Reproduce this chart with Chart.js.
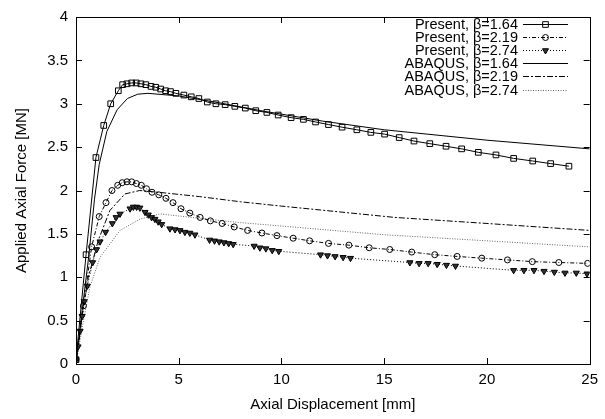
<!DOCTYPE html>
<html>
<head>
<meta charset="utf-8">
<script src="https://cdn.jsdelivr.net/npm/chart.js@4/dist/chart.umd.min.js"></script>
<style>
  body { margin: 0; background: #fff; }
  canvas { display: block; }
</style>
</head>
<body>
<canvas id="chart" width="605" height="419"></canvas>
<script>
// Present, beta = 1.64 (squares)
const disp164 = [0, 0.49, 0.97, 1.35, 1.69, 2.06, 2.27, 2.48, 2.71, 2.93, 3.16, 3.40, 3.65, 3.88, 4.12, 4.36, 4.6, 4.86, 5.25, 5.61, 5.98, 6.39, 6.81, 7.26, 7.73, 8.24, 8.75, 9.29, 9.84, 10.47, 11.07, 11.66, 12.29, 12.95, 13.67, 14.35, 15.02, 15.73, 16.45, 17.22, 18.01, 18.77, 19.58, 20.44, 21.30, 22.23, 23.1, 23.99];
const force164 = [0.05, 1.26, 2.38, 2.75, 3.0, 3.15, 3.22, 3.23, 3.24, 3.24, 3.23, 3.22, 3.20, 3.19, 3.17, 3.15, 3.14, 3.12, 3.10, 3.08, 3.06, 3.02, 3.00, 2.99, 2.97, 2.95, 2.92, 2.90, 2.87, 2.84, 2.82, 2.79, 2.76, 2.73, 2.70, 2.67, 2.65, 2.61, 2.57, 2.54, 2.51, 2.48, 2.44, 2.41, 2.37, 2.34, 2.31, 2.28];

// Present, beta = 2.19 (circles)
const disp219 = [0, 0.36, 0.76, 1.13, 1.46, 1.75, 2.03, 2.25, 2.48, 2.71, 2.94, 3.18, 3.43, 3.70, 4.03, 4.38, 4.72, 5.11, 5.54, 6.04, 6.54, 7.11, 7.70, 8.35, 9.05, 9.78, 10.57, 11.37, 12.29, 13.28, 14.27, 15.27, 16.34, 17.46, 18.55, 19.75, 21.0, 22.21, 23.5, 24.9];
const force219 = [0.05, 0.67, 1.35, 1.70, 1.86, 2.00, 2.06, 2.09, 2.10, 2.10, 2.08, 2.06, 2.02, 1.98, 1.95, 1.91, 1.86, 1.79, 1.74, 1.69, 1.65, 1.62, 1.58, 1.54, 1.51, 1.48, 1.45, 1.42, 1.39, 1.37, 1.34, 1.32, 1.29, 1.26, 1.24, 1.22, 1.20, 1.18, 1.17, 1.16];

// Present, beta = 2.74 (triangles)
const disp274 = [0, 0.1, 0.2, 0.3, 0.4, 0.55, 0.81, 1.0, 1.17, 1.44, 1.77, 1.95, 2.14, 2.63, 2.79, 2.95, 3.11, 3.36, 3.52, 3.68, 3.84, 4.0, 4.17, 4.57, 4.82, 5.06, 5.30, 5.54, 5.79, 6.5, 6.74, 6.97, 7.2, 7.43, 7.65, 8.67, 8.95, 9.24, 9.55, 9.87, 11.9, 12.24, 12.61, 13.0, 13.36, 16.25, 16.70, 17.14, 17.58, 18.03, 18.47, 21.3, 21.8, 22.29, 22.78, 23.28, 23.8, 24.35, 24.87];
const force274 = [0.05, 0.2, 0.38, 0.55, 0.72, 0.9, 1.17, 1.32, 1.41, 1.52, 1.62, 1.69, 1.73, 1.79, 1.81, 1.81, 1.80, 1.75, 1.72, 1.69, 1.67, 1.64, 1.61, 1.56, 1.55, 1.54, 1.52, 1.51, 1.49, 1.43, 1.42, 1.41, 1.40, 1.39, 1.38, 1.36, 1.34, 1.33, 1.31, 1.30, 1.26, 1.25, 1.24, 1.23, 1.22, 1.17, 1.16, 1.16, 1.15, 1.14, 1.13, 1.08, 1.08, 1.08, 1.07, 1.06, 1.05, 1.05, 1.04];

// ABAQUS curves
const abaDisp164 = [0, 0.3, 0.63, 0.9, 1.13, 1.5, 2.0, 2.5, 3.0, 3.5, 5.0, 7.0, 9.0, 12.0, 15.0, 20.0, 25.0];
const abaForce164 = [0, 0.62, 1.26, 1.9, 2.3, 2.68, 2.93, 3.06, 3.11, 3.12, 3.09, 3.01, 2.92, 2.80, 2.70, 2.58, 2.48];
const abaDisp219 = [0, 0.3, 0.6, 1.09, 1.65, 2.38, 3.1, 4.0, 6.0, 8.0, 10.0, 15.5, 20.0, 25.0];
const abaForce219 = [0, 0.55, 1.0, 1.43, 1.77, 1.96, 2.0, 1.98, 1.93, 1.87, 1.82, 1.69, 1.62, 1.54];
const abaDisp274 = [0, 0.3, 0.68, 1.17, 2.14, 3.11, 4.09, 6.0, 8.0, 10.0, 15.0, 20.0, 25.0];
const abaForce274 = [0, 0.42, 0.89, 1.23, 1.54, 1.67, 1.73, 1.68, 1.63, 1.59, 1.49, 1.42, 1.35];

const xTicks = [0, 5, 10, 15, 20, 25];
const yTicks = [0, 0.5, 1, 1.5, 2, 2.5, 3, 3.5, 4];

const FONT = "'Liberation Sans', Arial, Helvetica, sans-serif";

const pts = (xs, ys) => xs.map((v, i) => ({ x: v, y: ys[i] }));

function series(label, xs, ys, style) {
  return Object.assign({
    label,
    data: pts(xs, ys),
    showLine: true,
    borderColor: '#000',
    borderWidth: 1,
    pointRadius: 0,
    pointBorderColor: '#000',
    pointBorderWidth: 1,
    pointBackgroundColor: 'rgba(0,0,0,0)',
    tension: 0
  }, style);
}

const datasets = [
  series('Present, \u03b2=1.64', disp164, force164, { pointStyle: 'rect', pointRadius: 4 }),
  series('Present, \u03b2=2.19', disp219, force219, { pointStyle: 'circle', pointRadius: 3, borderDash: [4, 2, 1, 2] }),
  series('Present, \u03b2=2.74', disp274, force274, { pointStyle: 'triangle', pointRotation: 180, pointRadius: 3.5, pointBackgroundColor: '#333', borderDash: [1, 2] }),
  series('ABAQUS, \u03b2=1.64', abaDisp164, abaForce164, {}),
  series('ABAQUS, \u03b2=2.19', abaDisp219, abaForce219, { borderDash: [6, 2, 2, 2] }),
  series('ABAQUS, \u03b2=2.74', abaDisp274, abaForce274, { borderColor: '#666', borderDash: [1, 1.5] })
];

// gnuplot-like frame: box, inward ticks on all four sides, key in the top right
const frameAndKey = {
  id: 'frameAndKey',
  afterDatasetsDraw(chart) {
    const { ctx, chartArea: a, scales: { x, y } } = chart;
    ctx.save();
    ctx.strokeStyle = '#000';
    ctx.lineWidth = 1;
    ctx.setLineDash([]);
    ctx.strokeRect(Math.round(a.left) + 0.5, Math.round(a.top) + 0.5, Math.round(a.width), Math.round(a.height));
    const tl = 6;
    ctx.beginPath();
    xTicks.forEach(v => {
      const px = Math.round(x.getPixelForValue(v)) + 0.5;
      ctx.moveTo(px, a.bottom); ctx.lineTo(px, a.bottom - tl);
      ctx.moveTo(px, a.top); ctx.lineTo(px, a.top + tl);
    });
    yTicks.forEach(v => {
      const py = Math.round(y.getPixelForValue(v)) + 0.5;
      ctx.moveTo(a.left, py); ctx.lineTo(a.left + tl, py);
      ctx.moveTo(a.right, py); ctx.lineTo(a.right - tl, py);
    });
    ctx.stroke();

    // key
    ctx.font = '14.5px ' + FONT;
    ctx.fillStyle = '#000';
    ctx.textAlign = 'right';
    ctx.textBaseline = 'middle';
    const textRight = 518, x0 = 523, x1 = 568, rowTop = 24, rowStep = 13.1;
    chart.data.datasets.forEach((ds, i) => {
      const cy = Math.round(rowTop + i * rowStep) + 0.5;
      ctx.fillText(ds.label, textRight, cy);
      ctx.save();
      ctx.strokeStyle = ds.borderColor;
      ctx.lineWidth = 1;
      ctx.setLineDash(ds.borderDash || []);
      ctx.beginPath();
      ctx.moveTo(x0, cy); ctx.lineTo(x1, cy);
      ctx.stroke();
      ctx.restore();
      if (ds.pointRadius > 0) {
        ctx.save();
        ctx.strokeStyle = '#000';
        ctx.fillStyle = ds.pointBackgroundColor;
        ctx.lineWidth = 1;
        ctx.setLineDash([]);
        Chart.helpers.drawPoint(ctx, {
          pointStyle: ds.pointStyle,
          rotation: ds.pointRotation || 0,
          radius: ds.pointRadius,
          borderWidth: 1
        }, (x0 + x1) / 2, cy);
        ctx.restore();
      }
    });
    ctx.restore();
  }
};

new Chart(document.getElementById('chart'), {
  type: 'scatter',
  data: { datasets },
  options: {
    responsive: false,
    animation: false,
    events: [],
    layout: { padding: { top: 16, right: 15, left: 0, bottom: 0 } },
    plugins: { legend: { display: false }, tooltip: { enabled: false } },
    scales: {
      x: {
        type: 'linear',
        min: 0,
        max: 25,
        afterFit: s => { s.height = 55; },
        afterBuildTicks: s => { s.ticks = xTicks.map(v => ({ value: v })); },
        grid: { display: false, drawTicks: false },
        border: { display: false },
        ticks: { color: '#000', padding: 7, font: { family: FONT, size: 15 }, callback: v => String(v) },
        title: { display: true, text: 'Axial Displacement [mm]', color: '#000', font: { family: FONT, size: 15 }, padding: { top: 0, bottom: 5 } }
      },
      y: {
        type: 'linear',
        min: 0,
        max: 4,
        afterFit: s => { s.width = 76; },
        afterBuildTicks: s => { s.ticks = yTicks.map(v => ({ value: v })); },
        grid: { display: false, drawTicks: false },
        border: { display: false },
        ticks: { color: '#000', padding: 8, font: { family: FONT, size: 15 }, callback: v => String(v) },
        title: { display: true, text: 'Applied Axial Force [MN]', color: '#000', font: { family: FONT, size: 15 }, padding: { top: 13, bottom: 0 } }
      }
    }
  },
  plugins: [frameAndKey]
});
</script>
</body>
</html>
